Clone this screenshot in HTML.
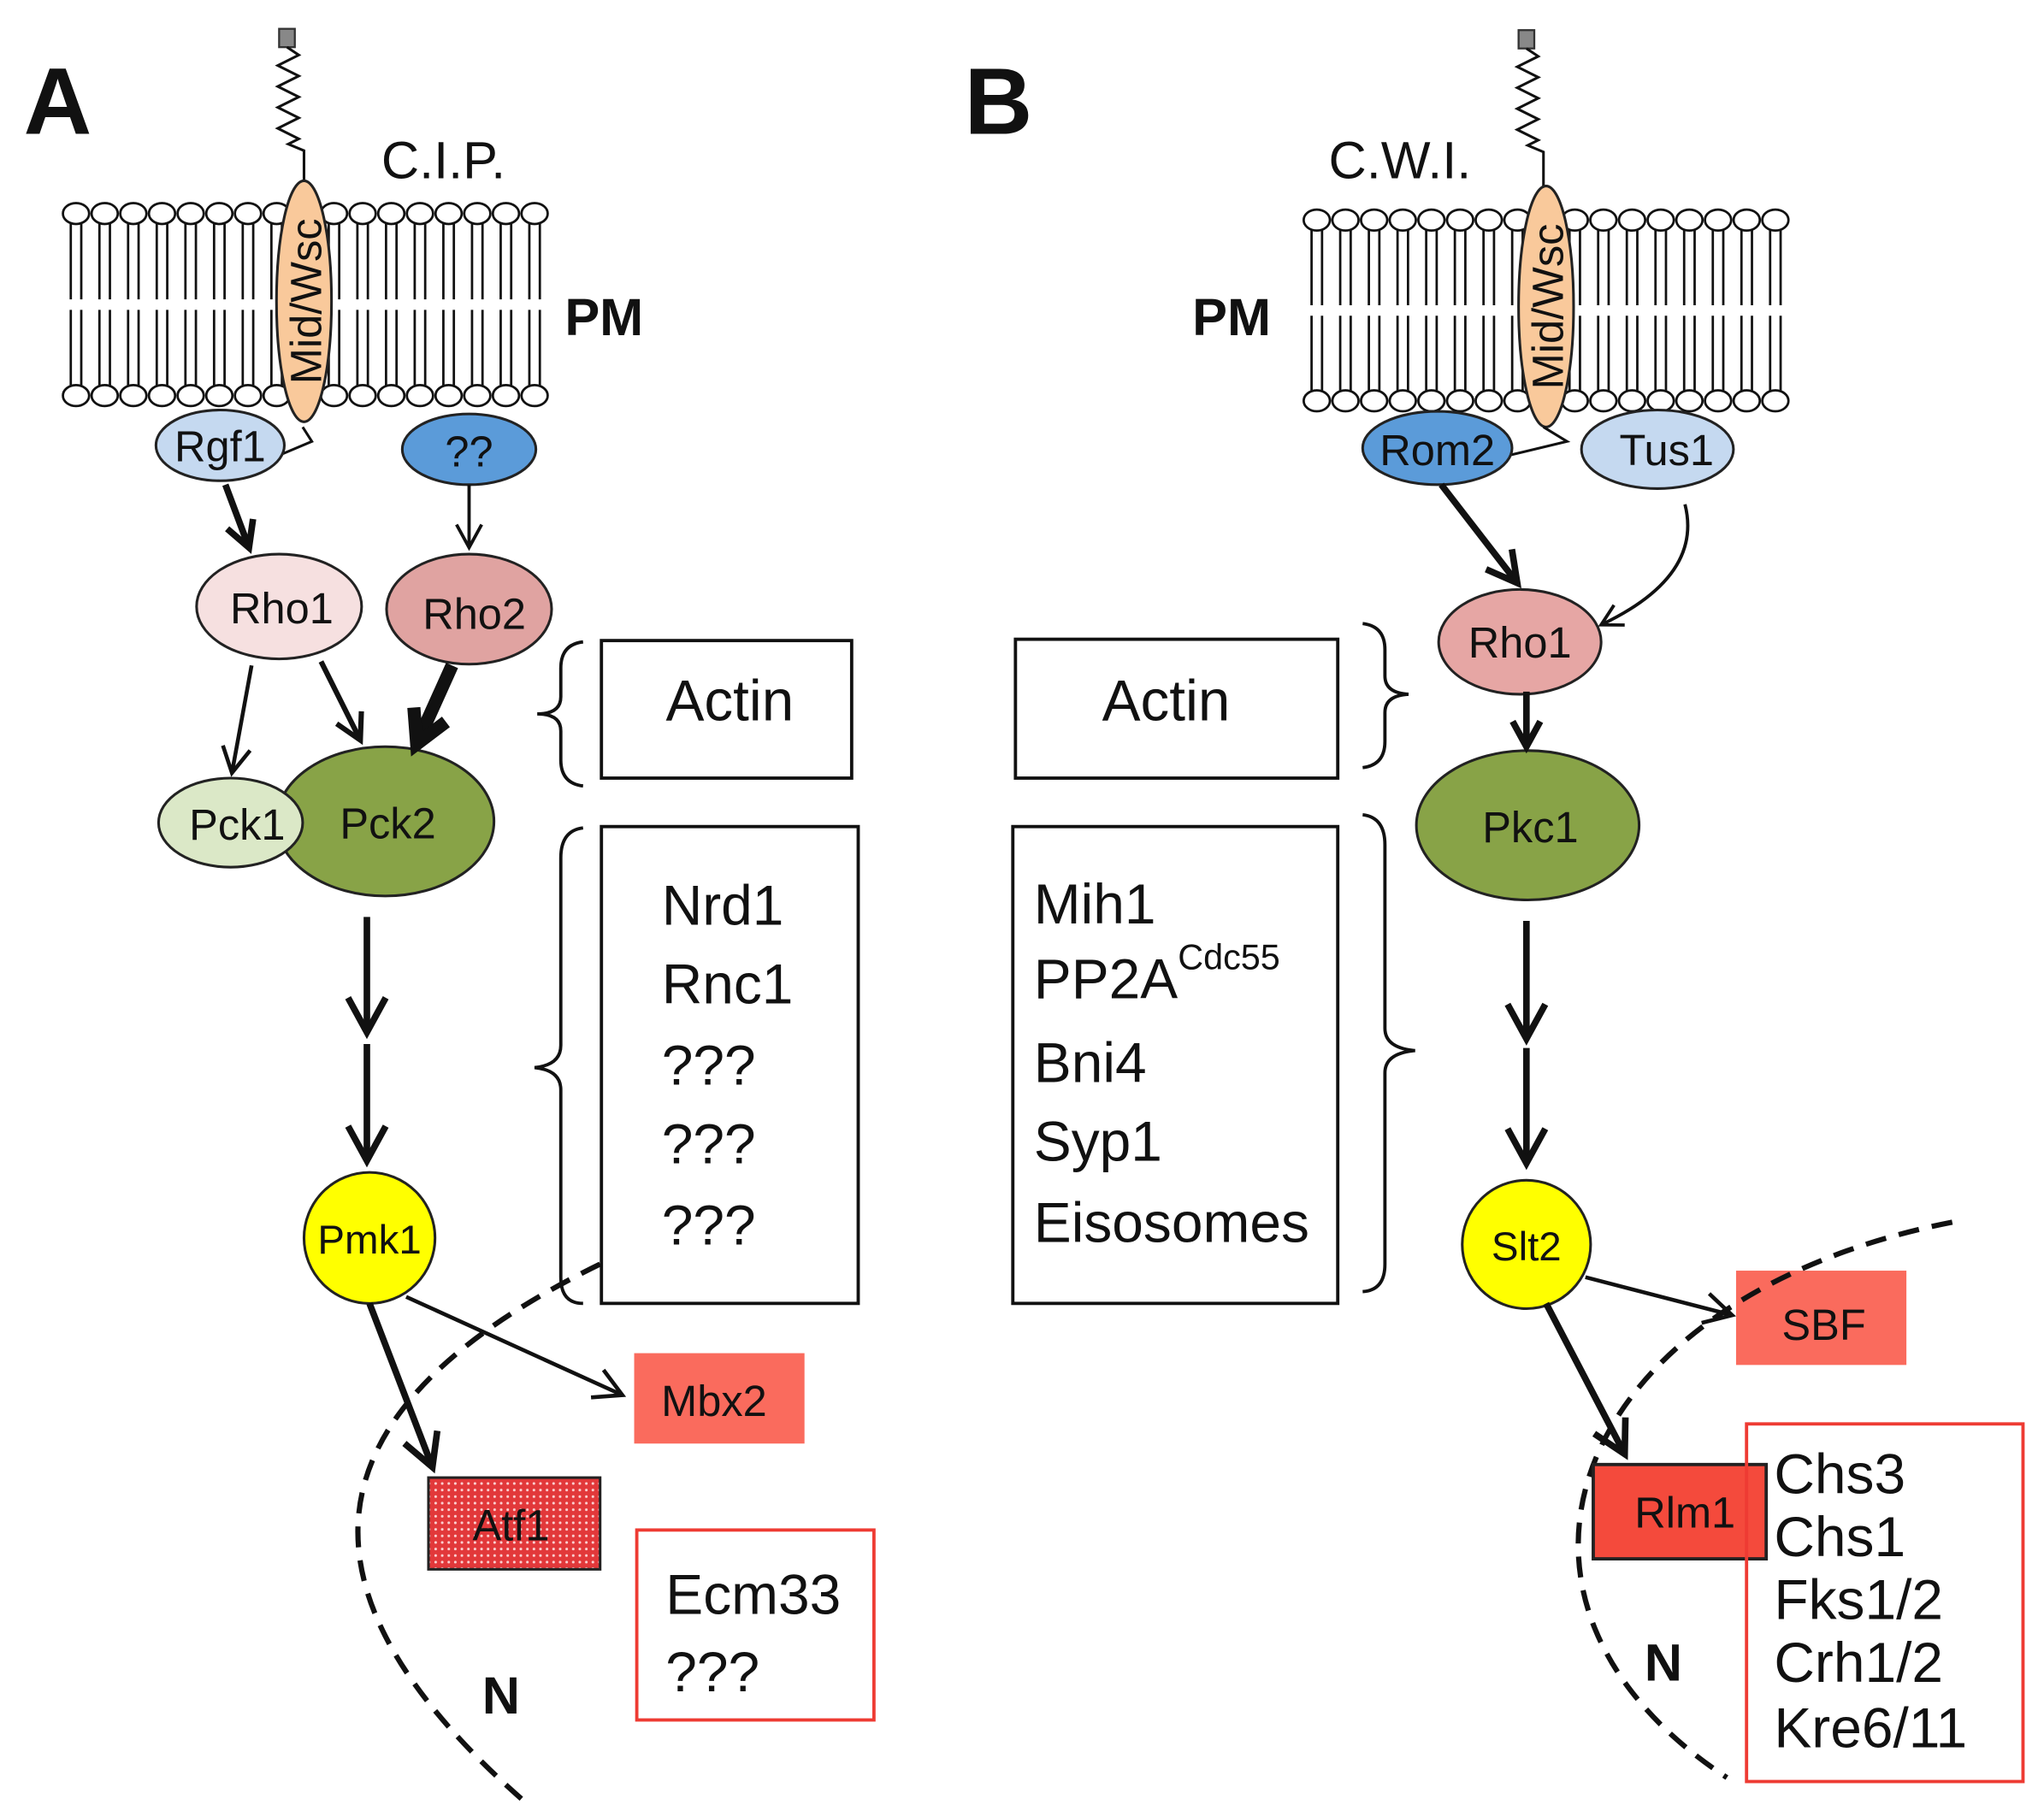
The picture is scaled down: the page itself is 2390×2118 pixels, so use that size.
<!DOCTYPE html>
<html><head><meta charset="utf-8"><style>
html,body{margin:0;padding:0;background:#fff;}
svg{display:block;}
text{font-family:"Liberation Sans",sans-serif;fill:#111;}
</style></head><body>
<svg id="s" width="2390" height="2118" viewBox="0 0 1560 1382.5" xmlns="http://www.w3.org/2000/svg">
<defs>
<pattern id="dots" width="5" height="5" patternUnits="userSpaceOnUse">
<rect width="5" height="5" fill="#e2383a"/><circle cx="2.5" cy="2.5" r="1" fill="#fbd0d0"/>
</pattern>
</defs>
<g id="mem"></g>
<!-- Panel A -->
<text x="18" y="102" font-size="72" font-weight="bold">A</text>
<text x="291" y="136" font-size="40">C.I.P.</text>
<text x="431" y="256" font-size="40" font-weight="bold">PM</text>
<rect x="213" y="22" width="12" height="14" fill="#888" stroke="#333" stroke-width="1.5"/>
<polyline points="219,36 228,42 212,50 228,58 212,66 228,74 212,82 228,90 212,98 228,106 220,110 232,115 232,140" fill="none" stroke="#111" stroke-width="2"/>
<ellipse cx="232" cy="230" rx="21" ry="92" fill="#f9c99b" stroke="#222" stroke-width="2"/>
<text transform="translate(245,230) rotate(-90)" text-anchor="middle" font-size="33">Mid/Wsc</text>
<polyline points="212,348 238,337 231,326" fill="none" stroke="#111" stroke-width="2"/>
<ellipse cx="168" cy="340" rx="49" ry="27" fill="#c5d9f0" stroke="#222" stroke-width="2"/>
<text x="168" y="352" font-size="33" text-anchor="middle">Rgf1</text>
<ellipse cx="358" cy="343" rx="51" ry="27" fill="#5b9bd9" stroke="#222" stroke-width="2"/>
<text x="358" y="356" font-size="33" text-anchor="middle">??</text>
<ellipse cx="213" cy="463" rx="63" ry="40" fill="#f6e0e0" stroke="#222" stroke-width="2"/>
<text x="215" y="476" font-size="33" text-anchor="middle">Rho1</text>
<ellipse cx="358" cy="465" rx="63" ry="42" fill="#e0a3a1" stroke="#222" stroke-width="2"/>
<text x="362" y="480" font-size="33" text-anchor="middle">Rho2</text>
<ellipse cx="294" cy="627" rx="83" ry="57" fill="#88a347" stroke="#222" stroke-width="2"/>
<text x="296" y="640" font-size="33" text-anchor="middle">Pck2</text>
<ellipse cx="176" cy="628" rx="55" ry="34" fill="#dbe8c7" stroke="#222" stroke-width="2"/>
<text x="181" y="641" font-size="33" text-anchor="middle">Pck1</text>
<circle cx="282" cy="945" r="50" fill="#ffff00" stroke="#222" stroke-width="2"/>
<text x="282" y="957" font-size="31" text-anchor="middle">Pmk1</text>
<path d="M445,490 Q428,492 428,510 L428,532 Q428,545 410,545 Q428,545 428,558 L428,580 Q428,598 445,600" fill="none" stroke="#111" stroke-width="2.5"/>
<rect x="459" y="489" width="191" height="105" fill="#fff" stroke="#111" stroke-width="2.5"/>
<text x="557" y="550" font-size="44" text-anchor="middle">Actin</text>
<path d="M445,632 Q428,634 428,655 L428,798 Q428,813 408,815 Q428,817 428,832 L428,975 Q428,995 445,995" fill="none" stroke="#111" stroke-width="2.5"/>
<rect x="459" y="631" width="196" height="364" fill="#fff" stroke="#111" stroke-width="2.5"/>
<g font-size="43"><text x="505" y="706">Nrd1</text><text x="505" y="766">Rnc1</text><text x="505" y="828">???</text><text x="505" y="888">???</text><text x="505" y="950">???</text></g>
<rect x="484" y="1033" width="130" height="69" fill="#fa6b5d"/>
<text x="545" y="1081" font-size="33" text-anchor="middle">Mbx2</text>
<rect x="327" y="1128" width="131" height="70" fill="url(#dots)" stroke="#222" stroke-width="2"/>
<text x="390" y="1176" font-size="33" text-anchor="middle">Atf1</text>
<path d="M458,965 Q120,1130 400,1375" fill="none" stroke="#111" stroke-width="4" stroke-dasharray="16,10"/>
<text x="368" y="1308" font-size="40" font-weight="bold">N</text>
<rect x="486" y="1168" width="181" height="145" fill="#fff" stroke="#ee3b33" stroke-width="2.5"/>
<text x="508" y="1232" font-size="43">Ecm33</text>
<text x="508" y="1291" font-size="43">???</text>

<!-- Panel B -->
<text x="736" y="102" font-size="72" font-weight="bold">B</text>
<text x="1014" y="136" font-size="40">C.W.I.</text>
<text x="910" y="256" font-size="40" font-weight="bold">PM</text>
<rect x="1159" y="23" width="12" height="14" fill="#888" stroke="#333" stroke-width="1.5"/>
<polyline points="1165,37 1174,43 1158,51 1174,59 1158,67 1174,75 1158,83 1174,91 1158,99 1174,107 1166,111 1178,116 1178,144" fill="none" stroke="#111" stroke-width="2"/>
<ellipse cx="1180" cy="234" rx="21" ry="92" fill="#f9c99b" stroke="#222" stroke-width="2"/>
<text transform="translate(1193,234) rotate(-90)" text-anchor="middle" font-size="33">Mid/Wsc</text>
<polyline points="1150,348 1196,337 1178,326" fill="none" stroke="#111" stroke-width="2"/>
<ellipse cx="1097" cy="342" rx="57" ry="28" fill="#5b9bd9" stroke="#222" stroke-width="2"/>
<text x="1097" y="355" font-size="33" text-anchor="middle">Rom2</text>
<ellipse cx="1265" cy="343" rx="58" ry="30" fill="#c5d9f0" stroke="#222" stroke-width="2"/>
<text x="1272" y="355" font-size="33" text-anchor="middle">Tus1</text>
<ellipse cx="1160" cy="490" rx="62" ry="40" fill="#e6a6a4" stroke="#222" stroke-width="2"/>
<text x="1160" y="502" font-size="33" text-anchor="middle">Rho1</text>
<ellipse cx="1166" cy="630" rx="85" ry="57" fill="#88a347" stroke="#222" stroke-width="2"/>
<text x="1168" y="643" font-size="33" text-anchor="middle">Pkc1</text>
<rect x="775" y="488" width="246" height="106" fill="#fff" stroke="#111" stroke-width="2.5"/>
<text x="890" y="550" font-size="44" text-anchor="middle">Actin</text>
<path d="M1040,476 Q1057,478 1057,496 L1057,516 Q1057,529 1075,530 Q1057,531 1057,544 L1057,566 Q1057,584 1040,586" fill="none" stroke="#111" stroke-width="2.5"/>
<rect x="773" y="631" width="248" height="364" fill="#fff" stroke="#111" stroke-width="2.5"/>
<g font-size="43"><text x="789" y="705">Mih1</text><text x="789" y="762">PP2A<tspan font-size="27" dy="-22">Cdc55</tspan></text><text x="789" y="826">Bni4</text><text x="789" y="886">Syp1</text><text x="789" y="948">Eisosomes</text></g>
<path d="M1040,622 Q1057,624 1057,645 L1057,785 Q1057,800 1080,802 Q1057,804 1057,819 L1057,965 Q1057,985 1040,986" fill="none" stroke="#111" stroke-width="2.5"/>
<circle cx="1165" cy="950" r="49" fill="#ffff00" stroke="#222" stroke-width="2"/>
<text x="1165" y="962" font-size="31" text-anchor="middle">Slt2</text>
<rect x="1325" y="970" width="130" height="72" fill="#fa6b5d"/>
<text x="1392" y="1023" font-size="33" text-anchor="middle">SBF</text>
<path d="M1490,933 C1200,990 1110,1220 1318,1357" fill="none" stroke="#111" stroke-width="4" stroke-dasharray="16,10"/>
<rect x="1216" y="1118" width="132" height="72" fill="#f44a3c" stroke="#222" stroke-width="2.5"/>
<text x="1286" y="1166" font-size="33" text-anchor="middle">Rlm1</text>
<text x="1255" y="1283" font-size="40" font-weight="bold">N</text>
<rect x="1333" y="1087" width="211" height="273" fill="none" stroke="#ee3b33" stroke-width="2.5"/>
<g font-size="43"><text x="1354" y="1140">Chs3</text><text x="1354" y="1188">Chs1</text><text x="1354" y="1236">Fks1/2</text><text x="1354" y="1284">Crh1/2</text><text x="1354" y="1334">Kre6/11</text></g>
<path d="M1286,385 Q1300,440 1222,477" fill="none" stroke="#111" stroke-width="2.5"/>
<g id="arr"></g>
</svg>
<script>
const NS="http://www.w3.org/2000/svg";
function el(p,t,a){const e=document.createElementNS(NS,t);for(const k in a)e.setAttribute(k,a[k]);p.appendChild(e);return e;}
const mem=document.getElementById('mem');
function membrane(x0,x1,ty,by){
  const n=17,sp=(x1-x0-20)/(n-1),mid=(ty+by)/2;
  for(let i=0;i<n;i++){const cx=x0+10+i*sp;
    for(const d of [-4,4]){
      el(mem,'line',{x1:cx+d,y1:ty+6,x2:cx+d,y2:mid-4,stroke:'#111','stroke-width':1.8});
      el(mem,'line',{x1:cx+d,y1:mid+4,x2:cx+d,y2:by-6,stroke:'#111','stroke-width':1.8});
    }
    el(mem,'ellipse',{cx:cx,cy:ty,rx:10,ry:8,fill:'#fff',stroke:'#111','stroke-width':1.8});
    el(mem,'ellipse',{cx:cx,cy:by,rx:10,ry:8,fill:'#fff',stroke:'#111','stroke-width':1.8});
  }
}
membrane(48,418,163,302);
membrane(995,1365,168,306);
const ar=document.getElementById('arr');
function head(x1,y1,x2,y2,w,h){
  const a=Math.atan2(y2-y1,x2-x1),s=0.5;
  const p1=[x2-h*Math.cos(a-s),y2-h*Math.sin(a-s)],p2=[x2-h*Math.cos(a+s),y2-h*Math.sin(a+s)];
  el(ar,'polyline',{points:`${p1} ${x2},${y2} ${p2}`,fill:'none',stroke:'#111','stroke-width':w});
}
function arrow(x1,y1,x2,y2,w,h){
  el(ar,'line',{x1,y1,x2,y2,stroke:'#111','stroke-width':w});
  head(x1,y1,x2,y2,w,h);
}
arrow(172,370,190,418,5,22);
arrow(358,370,358,418,2.5,20);
arrow(192,508,177,590,3,22);
arrow(245,505,275,565,4,22);
arrow(345,508,318,568,10,28);
arrow(280,700,280,788,5,30);
arrow(280,797,280,886,5,30);
arrow(310,990,475,1065,3,24);
arrow(282,995,330,1120,5,28);
arrow(1100,370,1158,445,5,26);
head(1250,462,1222,477,2.5,18);
arrow(1165,528,1165,570,5,22);
arrow(1165,703,1165,793,5,30);
arrow(1165,800,1165,888,5,30);
arrow(1210,975,1322,1004,3,24);
arrow(1180,995,1240,1110,5,28);
</script>
</body></html>
